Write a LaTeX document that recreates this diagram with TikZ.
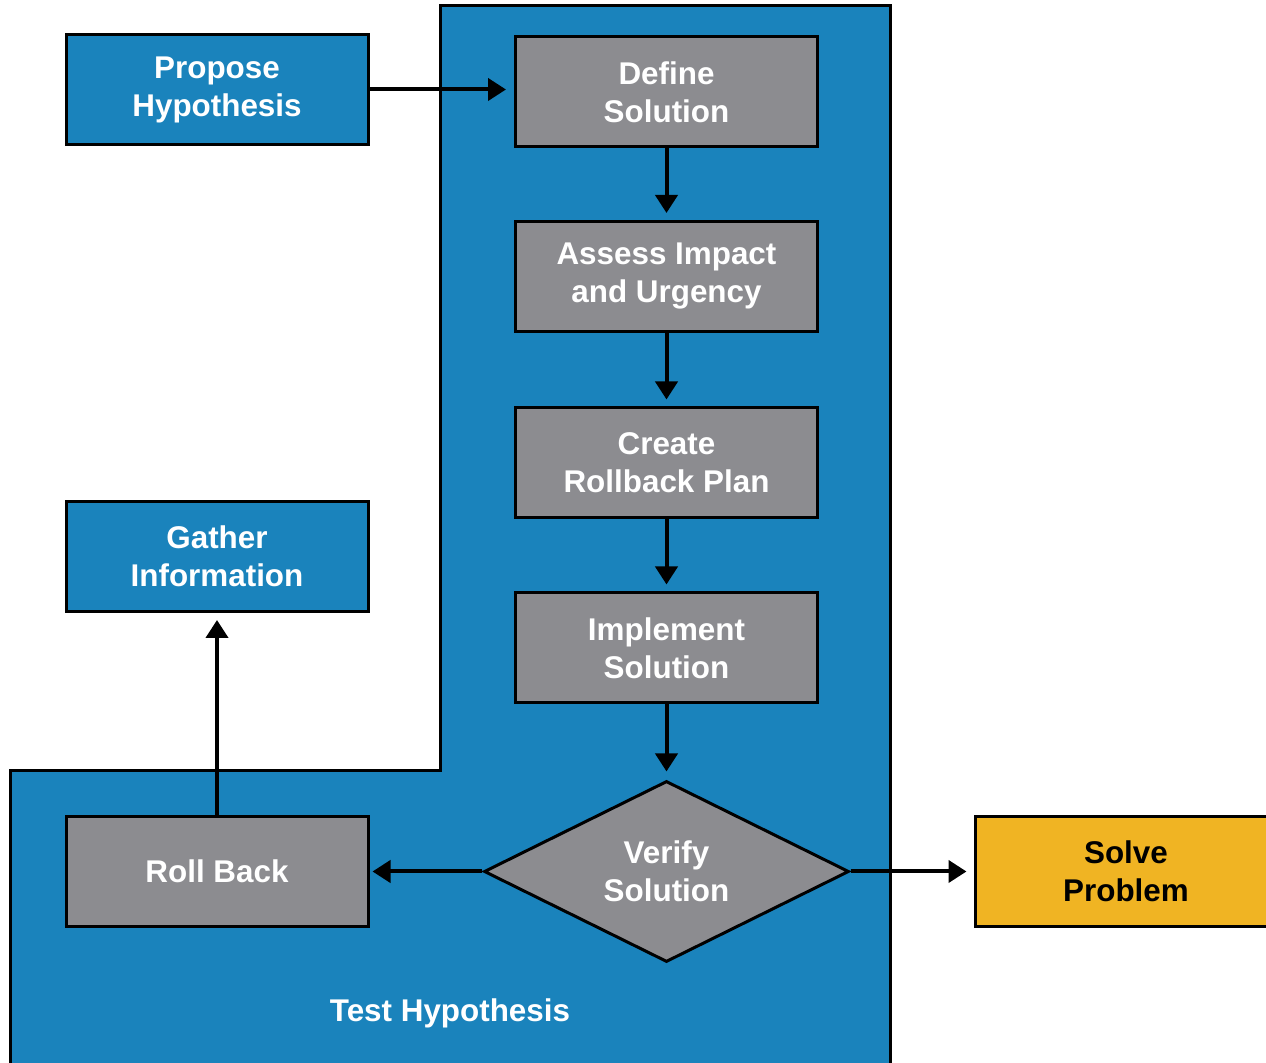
\documentclass[tikz,border=0pt]{standalone}
\usepackage{fontspec}
\setmainfont{Liberation Sans}
\usetikzlibrary{shapes.geometric,arrows.meta}
\definecolor{regionblue}{RGB}{26,131,188}
\definecolor{stepgray}{RGB}{140,140,144}
\definecolor{goalyellow}{RGB}{240,180,35}
\tikzset{
  labelfont/.style={font=\fontsize{15.7}{19}\selectfont\bfseries},
  stepbox/.style={draw=black, line width=1.5pt, fill=stepgray, text=white,
    minimum width=151pt, minimum height=55pt, inner sep=0pt, align=center,
    labelfont},
  bluebox/.style={stepbox, fill=regionblue},
  goalbox/.style={stepbox, fill=goalyellow, text=black},
  decision/.style={diamond, aspect=2, draw=black, line width=1.5pt, fill=stepgray,
    text=white, minimum width=182.5pt, minimum height=90.5pt, inner sep=0pt,
    align=center, labelfont},
  flow/.style={line width=2pt, -{Triangle[length=9pt,width=11pt]}}
}
\begin{document}
\begin{tikzpicture}[x=0.5pt,y=-0.5pt]
  \useasboundingbox (0,0) rectangle (1266,1063);
  \clip (0,0) rectangle (1266,1063);
  % Test Hypothesis region
  \draw[fill=regionblue, line width=1.5pt]
    (440,6) -- (890,6) -- (890,1075) -- (10,1075) -- (10,771) -- (440,771) -- cycle;
  \node[text=white, labelfont] (region) at (450,1013) {Test Hypothesis};

  % steps
  \node[bluebox] (prop) at (217,89.5) {Propose\\Hypothesis};
  \node[stepbox] (def) at (666.5,92) {Define\\Solution};
  \node[stepbox] (assess) at (666.5,276.5) {Assess Impact\\and Urgency};
  \node[stepbox] (create) at (666.5,463) {Create\\Rollback Plan};
  \node[stepbox] (impl) at (666.5,648) {Implement\\Solution};
  \node[decision] (verify) at (666.5,871.5) {Verify\\Solution};
  \node[stepbox] (rollback) at (217,871.5) {Roll Back};
  \node[bluebox] (gather) at (217,556.5) {Gather\\Information};
  \node[goalbox] (solve) at (1126,871.5) {Solve\\Problem};

  % connectors
  \draw[flow, shorten >=4pt] (prop.east) -- (prop.east -| def.west);
  \draw[flow, shorten >=3.5pt] (def) -- (assess);
  \draw[flow, shorten >=3.5pt] (assess) -- (create);
  \draw[flow, shorten >=3.5pt] (create) -- (impl);
  \draw[flow, shorten >=4pt] (impl) -- (verify);
  \draw[flow, shorten >=1.5pt] (verify) -- (rollback);
  \draw[flow, shorten >=3.5pt] (verify) -- (solve);
  \draw[flow, shorten >=3.5pt] (rollback) -- (gather);
\end{tikzpicture}
\end{document}
